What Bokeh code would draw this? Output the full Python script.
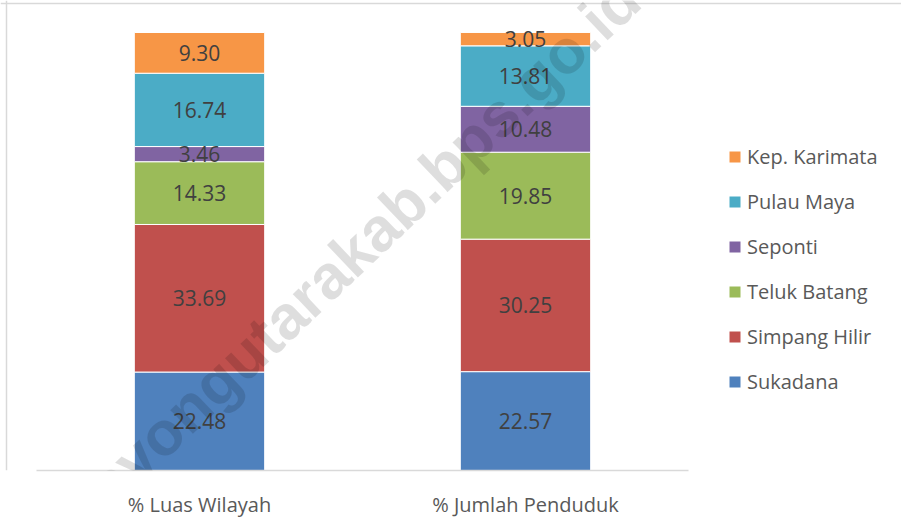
from bokeh.plotting import figure
from bokeh.models import (ColumnDataSource, Legend, LegendItem, Label, Range1d,
                          FixedTicker, Span)
from bokeh.core.properties import value
from bokeh.embed import file_html
from bokeh.resources import INLINE

categories = ["% Luas Wilayah", "% Jumlah Penduduk"]
districts = ["Sukadana", "Simpang Hilir", "Teluk Batang", "Seponti", "Pulau Maya", "Kep. Karimata"]
sukadana = [22.48, 22.57]
simpang_hilir = [33.69, 30.25]
teluk_batang = [14.33, 19.85]
seponti = [3.46, 10.48]
pulau_maya = [16.74, 13.81]
kep_karimata = [9.30, 3.05]
colors = ["#4F81BD", "#C0504D", "#9BBB59", "#8064A2", "#4BACC6", "#F79646"]

series = [sukadana, simpang_hilir, teluk_batang, seponti, pulau_maya, kep_karimata]
xpos = [i + 0.5 for i in range(len(categories))]
data = {"x": xpos}
for name, vals in zip(districts, series):
    data[name] = vals
source = ColumnDataSource(data)

W, H = 901, 522
PX_X = 326.0          # pixels per category
PX_Y = 4.38           # pixels per percent
frame_h = 470.0
left_pad = 36.0

p = figure(x_range=Range1d(-left_pad / PX_X, (W - left_pad) / PX_X),
           y_range=Range1d(0, frame_h / PX_Y),
           width=W, height=H, output_backend="svg", toolbar_location=None,
           min_border_left=0, min_border_right=0, min_border_top=0, min_border_bottom=52,
           background_fill_color="white", border_fill_color="white")
p.outline_line_color = None
p.xgrid.grid_line_color = None
p.ygrid.grid_line_color = None
p.yaxis.visible = False

# chart-area frame (left and top edges)
p.add_layout(Span(location=-left_pad / PX_X + 6.0 / PX_X, dimension="height",
                  line_color="#D9D9D9", line_width=1.5))
p.add_layout(Span(location=(frame_h - 3.0) / PX_Y, dimension="width",
                  line_color="#D9D9D9", line_width=1.5))

renderers = p.vbar_stack(districts, x="x", width=0.4, color=colors, source=source,
                         line_color="white", line_width=1)

# data labels at segment centres
lx, ly, lt = [], [], []
for ci, xc in enumerate(xpos):
    base = 0.0
    for vals in series:
        v = vals[ci]
        lx.append(xc)
        ly.append(base + v / 2.0)
        lt.append("%.2f" % v)
        base += v
p.text(x=lx, y=ly, text=lt, text_align="center", text_baseline="middle",
       text_font=value("Open Sans"), text_font_size="21px", text_color="#404040")

ax = p.xaxis[0]
ax.ticker = FixedTicker(ticks=xpos)
ax.major_label_overrides = {x: c for x, c in zip(xpos, categories)}
ax.bounds = (0, len(categories))
ax.axis_line_color = "#D9D9D9"
ax.axis_line_width = 1.5
ax.major_tick_line_color = None
ax.minor_tick_line_color = None
ax.major_tick_out = 0
ax.major_tick_in = 0
ax.major_label_standoff = 20
ax.major_label_text_font = "Open Sans"
ax.major_label_text_font_size = "20px"
ax.major_label_text_color = "#595959"

items = [LegendItem(label=name, renderers=[r]) for name, r in zip(districts, renderers)]
items = items[::-1]
legend = Legend(items=items, location=(727, 75), orientation="vertical",
                glyph_width=15, glyph_height=15, label_standoff=5,
                label_text_font="Open Sans", label_text_font_size="20px",
                label_text_color="#595959", label_height=20, spacing=18,
                padding=0, margin=0, border_line_color=None, background_fill_alpha=0)
p.add_layout(legend, "center")

# watermark
wm_x = -left_pad / PX_X + 72.0 / PX_X
wm_y = (frame_h - 6.0 - 526.0 + 472.0 - 464.0 + 6.0) / PX_Y
for txt, align in (("kayongutarakab.bps.go.id", "left"), ("https://", "right")):
    p.add_layout(Label(x=wm_x, y=wm_y, text=txt, angle=43.5, angle_units="deg",
                       text_font="Liberation Sans", text_font_style="bold", text_font_size="62px",
                       text_color="#000000", text_alpha=0.13, text_align=align,
                       text_baseline="alphabetic"))

open("out.html", "w").write(file_html(p, INLINE))
